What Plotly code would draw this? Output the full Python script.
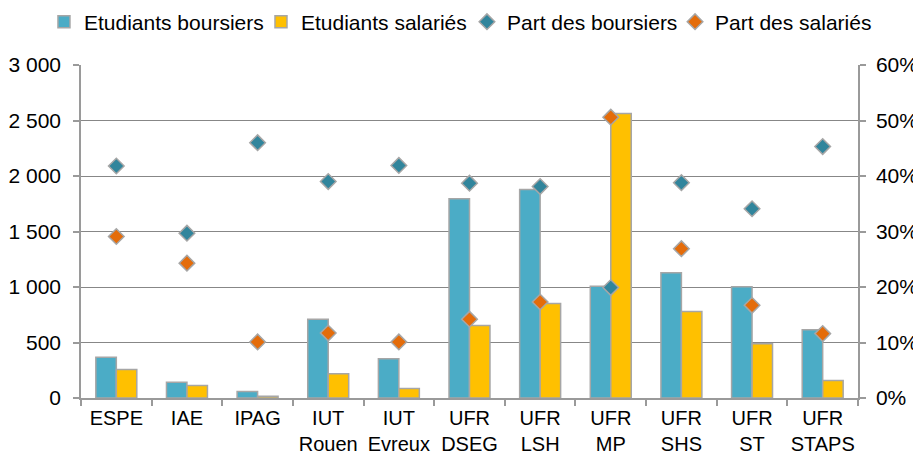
import plotly.graph_objects as go

categories = ["ESPE", "IAE", "IPAG", "IUT<br>Rouen", "IUT<br>Evreux", "UFR<br>DSEG",
              "UFR<br>LSH", "UFR<br>MP", "UFR<br>SHS", "UFR<br>ST", "UFR<br>STAPS"]
boursiers = [367, 142, 58, 710, 353, 1795, 1878, 1007, 1128, 1002, 614]
salaries = [257, 113, 15, 218, 85, 653, 851, 2563, 779, 488, 158]
part_boursiers = [41.8, 29.7, 46.0, 39.0, 41.9, 38.7, 38.1, 19.9, 38.8, 34.1, 45.3]
part_salaries = [29.1, 24.3, 10.1, 11.7, 10.1, 14.2, 17.3, 50.6, 26.9, 16.7, 11.6]

left_ticks = [0, 500, 1000, 1500, 2000, 2500, 3000]
left_ticktext = ["0", "500", "1 000", "1 500", "2 000", "2 500", "3 000"]
right_ticks = [0, 10, 20, 30, 40, 50, 60]
right_ticktext = ["0%", "10%", "20%", "30%", "40%", "50%", "60%"]

GREY = "#9a9a9a"
FONT = "Liberation Sans, Arial, sans-serif"

fig = go.Figure()
fig.add_trace(go.Bar(x=categories, y=boursiers, name="Etudiants boursiers", legend="legend",
                     marker=dict(color="#4BACC6", line=dict(color="#A6A6A6", width=1.5))))
fig.add_trace(go.Bar(x=categories, y=salaries, name="Etudiants salariés", legend="legend2",
                     marker=dict(color="#FFC000", line=dict(color="#A6A6A6", width=1.5))))
fig.add_trace(go.Scatter(x=categories, y=part_boursiers, name="Part des boursiers", mode="markers",
                         yaxis="y2", legend="legend3",
                         marker=dict(symbol="diamond", size=12, color="#31859C",
                                     line=dict(color="#A6A6A6", width=1.5))))
fig.add_trace(go.Scatter(x=categories, y=part_salaries, name="Part des salariés", mode="markers",
                         yaxis="y2", legend="legend4",
                         marker=dict(symbol="diamond", size=12, color="#E46C0A",
                                     line=dict(color="#A6A6A6", width=1.5))))

leg_common = dict(orientation="h", xref="container", xanchor="left",
                  y=1.129, yref="paper", yanchor="middle",
                  font=dict(size=21), itemwidth=30, traceorder="normal",
                  bgcolor="rgba(0,0,0,0)")

# the page body has an 8px default margin, so the figure is sized to fit the window
fig.update_layout(
    width=913, height=448,
    margin=dict(l=73, r=63, t=57, b=58, autoexpand=False),
    paper_bgcolor="white", plot_bgcolor="white",
    font=dict(family=FONT, size=21, color="#000000"),
    barmode="group", bargap=0.42, bargroupgap=0,
    showlegend=True,
    legend=dict(x=0.0394, **leg_common),
    legend2=dict(x=0.2771, **leg_common),
    legend3=dict(x=0.5027, **leg_common),
    legend4=dict(x=0.7306, **leg_common),
    xaxis=dict(type="category", range=[-0.5, len(categories) - 0.5],
               showgrid=False, showline=True, linecolor=GREY, linewidth=1.5,
               ticks="outside", tickson="boundaries", ticklen=6, tickcolor=GREY, tickwidth=1.5,
               tickangle=0, automargin=False, ticklabelstandoff=1, tickfont=dict(size=20)),
    yaxis=dict(range=[0, 3000], tickvals=left_ticks, ticktext=left_ticktext,
               showgrid=True, gridcolor="#878787", gridwidth=1,
               showline=True, linecolor=GREY, linewidth=1.5,
               ticks="outside", ticklen=6, tickcolor=GREY, tickwidth=1.5,
               zeroline=False, automargin=False, ticklabelstandoff=8, tickfont=dict(size=21)),
    yaxis2=dict(range=[0, 60], tickvals=right_ticks, ticktext=right_ticktext,
                overlaying="y", side="right",
                showgrid=False, showline=True, linecolor=GREY, linewidth=1.5,
                ticks="outside", ticklen=6, tickcolor=GREY, tickwidth=1.5,
                zeroline=False, automargin=False, ticklabelstandoff=6, tickfont=dict(size=21)),
)

fig.write_html("out.html")
